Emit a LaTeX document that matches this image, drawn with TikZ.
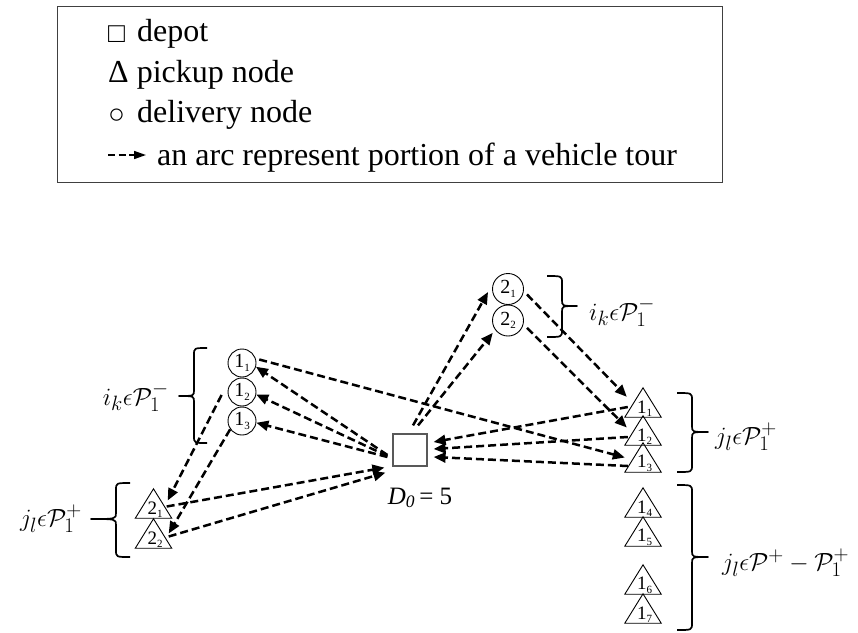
\documentclass[tikz,border=0pt]{standalone}
\usepackage{fontspec}
\setmainfont{Liberation Serif}
\usetikzlibrary{arrows.meta,calc}
\newcommand{\sbs}[1]{\raisebox{-3.5pt}{\fontsize{11}{11}\selectfont #1}}
\newcommand{\mytri}[4]{%
  \node[trin] (#1) at (#2,#3) {};
  \draw[triline] (#1.south west) -- (#1.north) -- (#1.south east) -- cycle;
  \node[trilbl, anchor=south] at ($(#1.south)+(1.5,-0.5)$) {#4};}
% brace: ends x, vertical x, tip x, top y, bottom y, mid y
\newcommand{\mybrace}[6]{%
  \draw[brcline] (#1,#4) .. controls ($(#2,#4)$) .. ($(#2,#4)+(0,7)$) -- ($(#2,#6)+(0,-6)$)
    .. controls (#2,#6) .. (#3,#6) .. controls (#2,#6) .. ($(#2,#6)+(0,6)$)
    -- ($(#2,#5)+(0,-7)$) .. controls (#2,#5) .. (#1,#5);}
\begin{document}
\begin{tikzpicture}[x=1pt,y=-1pt,
  arr/.style={line width=2.5pt, dash pattern=on 8pt off 4pt, -{Triangle[length=12pt,width=10pt]}},
  cnode/.style={circle, draw, line width=0.9pt, minimum size=28pt, inner sep=0pt, font=\fontsize{20}{20}\selectfont},
  trin/.style={rectangle, minimum width=36pt, minimum height=29pt, inner sep=0pt},
  triline/.style={line width=0.9pt, line join=miter},
  trilbl/.style={inner sep=0pt, font=\fontsize{19}{19}\selectfont},
  brcline/.style={line width=1.7pt, line join=round},
  mlab/.style={inner sep=0pt, font=\fontsize{28}{28}\selectfont},
  leg/.style={inner sep=0pt, font=\fontsize{32}{32}\selectfont},
  legsym/.style={inner sep=0pt, font=\fontsize{28}{28}\selectfont},
]
\useasboundingbox (0,0) rectangle (858,632);
% legend
\node[draw=black!75, line width=1.2pt, minimum width=665pt, minimum height=176pt, inner sep=0pt, anchor=north west] (legend) at (57,6) {};
\node[legsym, anchor=base west] (s1) at (108,42) {□};
\node[leg, anchor=base west] (l1) at (137,41) {depot};
\node[leg, anchor=base west] (l2) at (108,82) {Δ pickup node};
\node[legsym, anchor=base west] (s3) at (108,123) {○};
\node[leg, anchor=base west] (l3) at (137,122) {delivery node};
\node[leg, anchor=base west] (l4) at (157,165) {an arc represent portion of a vehicle tour};
\coordinate (la1) at (108,155);
\coordinate (la2) at (146,155);
\draw[line width=1.6pt, dash pattern=on 7pt off 3.5pt, -{Triangle[length=12pt,width=8pt]}] (la1) -- (la2);
% depot
\node[draw=black!65, line width=1.2pt, minimum width=34pt, minimum height=32pt, inner sep=0pt] (dep) at (410,450) {};
\node[inner sep=0pt, font=\fontsize{25}{25}\selectfont] (dlab) at (420,498) {\textit{D}\textsubscript{\textit{0}}\,= 5};
% left circles
\node[cnode] (c11) at (242,363) {1\sbs{1}};
\node[cnode] (c12) at (242,392) {1\sbs{2}};
\node[cnode] (c13) at (242,421) {1\sbs{3}};
% top circles
\node[cnode, minimum size=31pt] (c21) at (508,289) {2\sbs{1}};
\node[cnode, minimum size=31pt] (c22) at (508,320.5) {2\sbs{2}};
% right triangles
\mytri{t11}{643}{402.5}{1\sbs{1}}
\mytri{t12}{643}{430.5}{1\sbs{2}}
\mytri{t13}{643}{457.5}{1\sbs{3}}
\mytri{t14}{643}{502.5}{1\sbs{4}}
\mytri{t15}{643}{531.5}{1\sbs{5}}
\mytri{t16}{643}{579.5}{1\sbs{6}}
\mytri{t17}{643}{608.5}{1\sbs{7}}
% left triangles
\mytri{tl21}{153.5}{503.5}{2\sbs{1}}
\mytri{tl22}{153.5}{533.5}{2\sbs{2}}
% braces
\mybrace{207}{194}{179}{348}{443}{396}
\node[mlab, anchor=east] (bl1) at (169,397) {$i_k\epsilon\mathcal{P}_1^-$};
\mybrace{130}{116}{91}{483}{557}{519}
\node[mlab, anchor=east] (bl2) at (82,519) {$j_l\epsilon\mathcal{P}_1^+$};
\mybrace{547}{562}{577}{276}{337}{306}
\node[mlab, anchor=west] (bt) at (589,312) {$i_k\epsilon\mathcal{P}_1^-$};
\mybrace{677}{692}{708}{393}{472}{432}
\node[mlab, anchor=west] (br1) at (715,437) {$j_l\epsilon\mathcal{P}_1^+$};
\mybrace{677}{692}{708}{485}{630}{557}
\node[mlab, anchor=west] (br2) at (722,563) {$j_l\epsilon\mathcal{P}^+ - \mathcal{P}_1^+$};
% arrows
\draw[arr] ($(dep.west)+(-5,5)$) -- (c11.-15);
\draw[arr] ($(dep.west)+(-5,6)$) -- (c12.-10);
\draw[arr] ($(dep.west)+(-5,7)$) -- (c13.-7);
\draw[arr] ($(c11.10)+(3,-1)$) -- (t13.west);
\draw[arr] ($(c12.west)+(-6,3)$) -- ($(tl21.east)+(-4,-3)$);
\draw[arr] (c13.215) -- ($(tl22.east)+(-3,0)$);
\draw[arr] ($(tl21.east)+(-5,3)$) -- ($(dep.south west)+(-8,1)$);
\draw[arr] ($(tl22.east)+(-3,3)$) -- ($(dep.south west)+(-7,6)$);
\draw[arr] ($(dep.north)+(3,-8)$) -- ($(c21.west)+(-4,3)$);
\draw[arr] ($(dep.north)+(8,-8)$) -- ($(c22.220)+(-3,2)$);
\draw[arr] ($(c21.-20)+(4,0)$) -- ($(t11.north west)+(2,9)$);
\draw[arr] ($(c22.-20)+(4,2)$) -- ($(t12.west)+(2,-3)$);
\draw[arr] ($(t11.west)+(3,4.5)$) -- ($(dep.east)+(6,-8)$);
\draw[arr] ($(t12.west)+(3,6.5)$) -- ($(dep.east)+(6,-1)$);
\draw[arr] ($(t13.west)+(3,8.5)$) -- ($(dep.east)+(6,7)$);
\end{tikzpicture}
\end{document}
